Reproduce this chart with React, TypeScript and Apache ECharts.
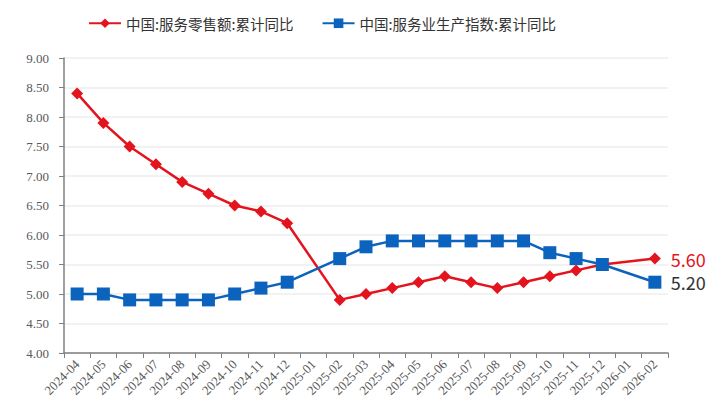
import React, { useEffect, useRef } from "react";
import * as echarts from "echarts";

const categories = [
  "2024-04", "2024-05", "2024-06", "2024-07", "2024-08", "2024-09", "2024-10", "2024-11", "2024-12",
  "2025-01", "2025-02", "2025-03", "2025-04", "2025-05", "2025-06", "2025-07", "2025-08", "2025-09",
  "2025-10", "2025-11", "2025-12", "2026-01", "2026-02",
];

const retailSales: (number | null)[] = [
  8.4, 7.9, 7.5, 7.2, 6.9, 6.7, 6.5, 6.4, 6.2,
  null, 4.9, 5.0, 5.1, 5.2, 5.3, 5.2, 5.1, 5.2,
  5.3, 5.4, 5.5, null, 5.6,
];

const productionIndex: (number | null)[] = [
  5.0, 5.0, 4.9, 4.9, 4.9, 4.9, 5.0, 5.1, 5.2,
  null, 5.6, 5.8, 5.9, 5.9, 5.9, 5.9, 5.9, 5.9,
  5.7, 5.6, 5.5, null, 5.2,
];

const seriesNames = ["中国:服务零售额:累计同比", "中国:服务业生产指数:累计同比"];

const RED = "#e3141d";
const BLUE = "#0c63bd";

export default function App() {
  const ref = useRef<HTMLDivElement>(null);
  useEffect(() => {
    if (!ref.current) return;
    const chart = echarts.init(ref.current, undefined, { renderer: "svg" });
    const serif = "Liberation Serif";
    const sans = "Noto Sans CJK SC";
    chart.setOption({
      animation: false,
      backgroundColor: "#ffffff",
      legend: {
        top: 11,
        left: 83,
        itemGap: 28,
        itemWidth: 32,
        itemHeight: 12,
        textStyle: { fontFamily: sans, fontSize: 14.5, color: "#333333" },
        data: seriesNames,
      },
      grid: { left: 64, right: 51, top: 58, bottom: 57, containLabel: false },
      xAxis: {
        type: "category",
        data: categories,
        boundaryGap: true,
        axisLine: { show: true, lineStyle: { color: "#808080", width: 1.5 } },
        axisTick: { show: true, length: 5, lineStyle: { color: "#808080" } },
        axisLabel: {
          rotate: 45,
          interval: 0,
          fontFamily: serif,
          fontSize: 13,
          color: "#595959",
          margin: 9,
        },
        splitLine: { show: false },
      },
      yAxis: {
        type: "value",
        min: 4,
        max: 9,
        interval: 0.5,
        axisLine: { show: true, lineStyle: { color: "#808080", width: 1.5 } },
        axisTick: { show: true, length: 5, lineStyle: { color: "#808080" } },
        axisLabel: {
          formatter: (v: number) => v.toFixed(2),
          fontFamily: serif,
          fontSize: 13,
          color: "#595959",
          margin: 15,
        },
        splitLine: { show: true, lineStyle: { color: "#eeeeee", width: 1.5 } },
      },
      series: [
        {
          name: seriesNames[0],
          type: "line",
          data: retailSales,
          connectNulls: true,
          symbol: "diamond",
          symbolSize: 12,
          itemStyle: { color: RED },
          lineStyle: { color: RED, width: 2.5 },
          endLabel: {
            show: true,
            formatter: (p: any) => Number(p.value).toFixed(2),
            fontFamily: sans,
            fontSize: 18,
            color: RED,
            distance: 16,
          },
        },
        {
          name: seriesNames[1],
          type: "line",
          data: productionIndex,
          connectNulls: true,
          symbol: "rect",
          symbolSize: 13,
          itemStyle: { color: BLUE },
          lineStyle: { color: BLUE, width: 2.5 },
          endLabel: {
            show: true,
            formatter: (p: any) => Number(p.value).toFixed(2),
            fontFamily: sans,
            fontSize: 18,
            color: "#333333",
            distance: 16,
          },
        },
      ],
    });
    return () => chart.dispose();
  }, []);
  return (
    <div
      ref={ref}
      style={{ position: "fixed", left: 0, top: 0, width: 719, height: 410 }}
    />
  );
}
